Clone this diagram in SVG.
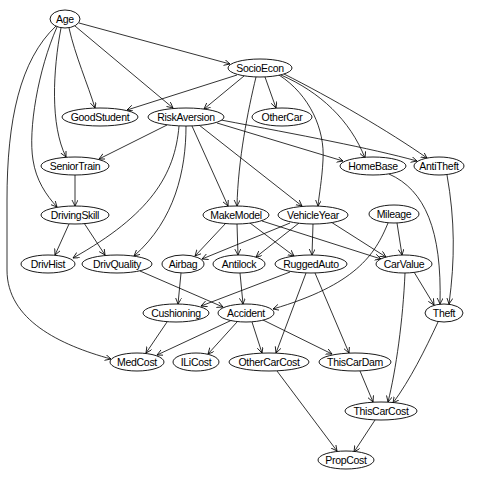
<svg xmlns="http://www.w3.org/2000/svg" width="480" height="480" viewBox="0 0 480 480">
<style>
.n ellipse{fill:#fff;stroke:#000;stroke-width:0.9}
.n text{font-family:"Liberation Sans",Arial,sans-serif;font-size:10.5px;letter-spacing:-0.3px;text-anchor:middle;fill:#000}
#edges path{fill:none;stroke:#000;stroke-width:0.8;marker-end:url(#arr)}
</style>
<defs>
<marker id="arr" markerUnits="userSpaceOnUse" markerWidth="8" markerHeight="8" refX="6" refY="3" orient="auto">
<path d="M0,0 L6,3 L0,6" fill="none" stroke="#000" stroke-width="0.8"/>
</marker>
</defs>
<rect width="480" height="480" fill="#fff"/>
<g id="edges">
<path d="M79,23 L230,64"/>
<path d="M69,28 C75,55 88,85 95,108"/>
<path d="M75,26 L173,108"/>
<path d="M61,28 C53,70 50,125 66,157"/>
<path d="M57,27 C38,70 28,130 33,160 C36,180 46,195 57,207"/>
<path d="M56,26 C20,60 7,120 7,200 L7,270 C7,320 60,345 111,359"/>
<path d="M237,75 L127,110"/>
<path d="M244,76 L204,109"/>
<path d="M265,77 L276,108"/>
<path d="M256,77 C248,110 238,160 237,206"/>
<path d="M279,75 C310,95 325,130 323,160 C322,180 319,195 318,206"/>
<path d="M281,75 C320,92 350,120 365,158"/>
<path d="M284,74 C330,97 390,132 427,158"/>
<path d="M167,125 L99,159"/>
<path d="M179,126 C175,175 150,215 73,258"/>
<path d="M186,126 C186,170 175,220 134,256"/>
<path d="M192,126 L228,206"/>
<path d="M199,125 L302,206"/>
<path d="M217,123 L343,161"/>
<path d="M221,120 C300,135 370,148 417,161"/>
<path d="M75,175 L75,206"/>
<path d="M69,224 L55,255"/>
<path d="M84,223 L105,255"/>
<path d="M226,223 L195,256"/>
<path d="M237,224 L238,255"/>
<path d="M250,223 L294,256"/>
<path d="M262,221 L381,259"/>
<path d="M290,223 L202,259"/>
<path d="M299,223 L256,257"/>
<path d="M313,224 L312,255"/>
<path d="M331,222 L386,257"/>
<path d="M397,223 L402,255"/>
<path d="M388,223 C375,255 355,285 273,309"/>
<path d="M389,174 C425,190 442,230 440,304"/>
<path d="M447,175 C455,220 455,260 449,304"/>
<path d="M414,272 L434,305"/>
<path d="M405,273 C403,320 396,370 388,402"/>
<path d="M438,322 C425,350 410,380 393,403"/>
<path d="M360,371 L373,402"/>
<path d="M181,273 L178,304"/>
<path d="M290,272 L201,306"/>
<path d="M240,273 L243,304"/>
<path d="M140,271 L223,307"/>
<path d="M306,273 L276,353"/>
<path d="M315,273 L349,353"/>
<path d="M232,320 L157,355"/>
<path d="M167,322 L146,353"/>
<path d="M237,322 L208,354"/>
<path d="M252,322 L262,353"/>
<path d="M263,320 L332,354"/>
<path d="M277,371 L337,451"/>
<path d="M375,420 L354,452"/>
</g>
<g id="Age" class="n"><ellipse cx="65" cy="19" rx="15" ry="9"/><text x="65" y="23">Age</text></g>
<g id="SocioEcon" class="n"><ellipse cx="260" cy="68" rx="32" ry="9"/><text x="260" y="72">SocioEcon</text></g>
<g id="GoodStudent" class="n"><ellipse cx="100" cy="117" rx="38" ry="9"/><text x="100" y="121">GoodStudent</text></g>
<g id="RiskAversion" class="n"><ellipse cx="186" cy="117" rx="38" ry="9"/><text x="186" y="121">RiskAversion</text></g>
<g id="OtherCar" class="n"><ellipse cx="282" cy="117" rx="30" ry="9"/><text x="282" y="121">OtherCar</text></g>
<g id="SeniorTrain" class="n"><ellipse cx="75" cy="166" rx="34" ry="9"/><text x="75" y="170">SeniorTrain</text></g>
<g id="HomeBase" class="n"><ellipse cx="373" cy="166" rx="33" ry="9"/><text x="373" y="170">HomeBase</text></g>
<g id="AntiTheft" class="n"><ellipse cx="439" cy="166" rx="25" ry="9"/><text x="439" y="170">AntiTheft</text></g>
<g id="DrivingSkill" class="n"><ellipse cx="75" cy="215" rx="34" ry="9"/><text x="75" y="219">DrivingSkill</text></g>
<g id="MakeModel" class="n"><ellipse cx="236" cy="215" rx="33" ry="9"/><text x="236" y="219">MakeModel</text></g>
<g id="VehicleYear" class="n"><ellipse cx="313" cy="215" rx="35" ry="9"/><text x="313" y="219">VehicleYear</text></g>
<g id="Mileage" class="n"><ellipse cx="394" cy="214" rx="25" ry="9"/><text x="394" y="218">Mileage</text></g>
<g id="DrivHist" class="n"><ellipse cx="48" cy="264" rx="27" ry="9"/><text x="48" y="268">DrivHist</text></g>
<g id="DrivQuality" class="n"><ellipse cx="117" cy="264" rx="35" ry="9"/><text x="117" y="268">DrivQuality</text></g>
<g id="Airbag" class="n"><ellipse cx="183" cy="264" rx="21" ry="9"/><text x="183" y="268">Airbag</text></g>
<g id="Antilock" class="n"><ellipse cx="239" cy="264" rx="26" ry="9"/><text x="239" y="268">Antilock</text></g>
<g id="RuggedAuto" class="n"><ellipse cx="311" cy="264" rx="36" ry="9"/><text x="311" y="268">RuggedAuto</text></g>
<g id="CarValue" class="n"><ellipse cx="404" cy="264" rx="28" ry="9"/><text x="404" y="268">CarValue</text></g>
<g id="Cushioning" class="n"><ellipse cx="176" cy="313" rx="33" ry="9"/><text x="176" y="317">Cushioning</text></g>
<g id="Accident" class="n"><ellipse cx="246" cy="313" rx="28" ry="9"/><text x="246" y="317">Accident</text></g>
<g id="Theft" class="n"><ellipse cx="444" cy="313" rx="19" ry="9"/><text x="444" y="317">Theft</text></g>
<g id="MedCost" class="n"><ellipse cx="137" cy="362" rx="27" ry="9"/><text x="137" y="366">MedCost</text></g>
<g id="ILiCost" class="n"><ellipse cx="196" cy="362" rx="23" ry="9"/><text x="196" y="366">ILiCost</text></g>
<g id="OtherCarCost" class="n"><ellipse cx="269" cy="362" rx="40" ry="9"/><text x="269" y="366">OtherCarCost</text></g>
<g id="ThisCarDam" class="n"><ellipse cx="355" cy="362" rx="36" ry="9"/><text x="355" y="366">ThisCarDam</text></g>
<g id="ThisCarCost" class="n"><ellipse cx="381" cy="411" rx="36" ry="9"/><text x="381" y="415">ThisCarCost</text></g>
<g id="PropCost" class="n"><ellipse cx="346" cy="460" rx="28" ry="9"/><text x="346" y="464">PropCost</text></g>
</svg>
